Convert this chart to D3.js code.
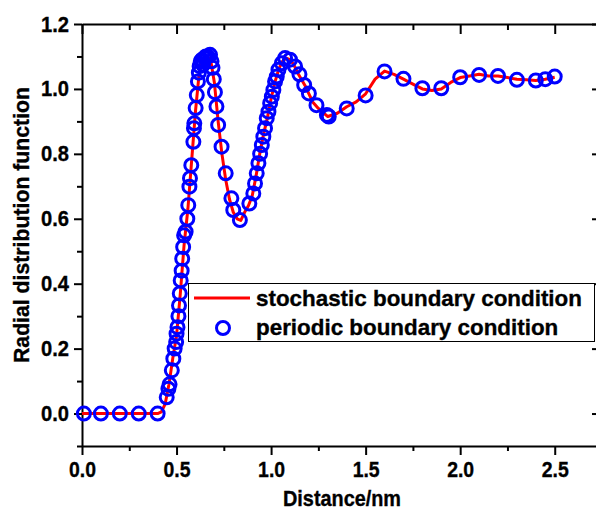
<!DOCTYPE html>
<html>
<head>
<meta charset="utf-8">
<script src="https://cdn.jsdelivr.net/npm/d3@7"></script>
<style>
  html, body { margin: 0; padding: 0; background: #fff; }
  svg { display: block; }
  text { font-family: "Liberation Sans", Arial, sans-serif; font-weight: bold; fill: #000;
         stroke: #000; stroke-width: 0.35px; }
</style>
</head>
<body>
<svg id="chart" width="596" height="512"></svg>
<script>
// Radial distribution function g(r): stochastic vs periodic boundary condition

// stochastic boundary condition (continuous curve)
const stochR = [0, 0.1, 0.2, 0.3, 0.4, 0.42, 0.44, 0.46, 0.48, 0.50, 0.52, 0.54, 0.56, 0.58, 0.60,
  0.62, 0.64, 0.66, 0.68, 0.70, 0.72, 0.74, 0.76, 0.78, 0.80, 0.82, 0.84, 0.86, 0.88, 0.90,
  0.92, 0.94, 0.96, 0.98, 1.00, 1.02, 1.04, 1.06, 1.08, 1.10, 1.12, 1.14, 1.16, 1.18, 1.20,
  1.22, 1.25, 1.28, 1.30, 1.35, 1.40, 1.45, 1.50, 1.55, 1.60, 1.65, 1.70, 1.75, 1.80, 1.85,
  1.90, 1.95, 2.00, 2.05, 2.10, 2.15, 2.20, 2.25, 2.30, 2.35, 2.40, 2.45, 2.50];
const stochG = [0, 0, 0, 0, 0, 0.005, 0.03, 0.09, 0.17, 0.24, 0.37, 0.52, 0.63, 0.78, 0.93,
  1.05, 1.09, 1.10, 1.09, 1.02, 0.90, 0.80, 0.72, 0.66, 0.62, 0.60, 0.595, 0.62, 0.64, 0.67,
  0.73, 0.80, 0.86, 0.91, 0.97, 1.02, 1.06, 1.085, 1.095, 1.09, 1.075, 1.05, 1.03, 1.01, 0.985,
  0.96, 0.94, 0.925, 0.915, 0.925, 0.945, 0.96, 0.985, 1.03, 1.055, 1.045, 1.03, 1.015, 1.0, 0.995,
  1.0, 1.02, 1.035, 1.04, 1.045, 1.04, 1.04, 1.035, 1.03, 1.028, 1.026, 1.03, 1.036];

// periodic boundary condition (sampled points)
const periodR = [0.01, 0.1, 0.2, 0.3, 0.4,
  0.448, 0.457, 0.463, 0.475, 0.483, 0.490, 0.498, 0.500, 0.505, 0.510, 0.513, 0.517, 0.522,
  0.527, 0.530, 0.535, 0.540, 0.548, 0.557, 0.562, 0.568, 0.571, 0.578, 0.589, 0.592, 0.594,
  0.601, 0.607, 0.613, 0.618, 0.622, 0.628, 0.635, 0.640, 0.648, 0.655, 0.665, 0.677, 0.685,
  0.690, 0.697, 0.703, 0.711, 0.720, 0.738, 0.760, 0.790, 0.800, 0.835,
  0.885, 0.906, 0.915, 0.924, 0.933, 0.942, 0.951, 0.959, 0.968, 0.977, 0.986, 0.995, 1.004,
  1.012, 1.021, 1.030, 1.039, 1.057, 1.074, 1.100, 1.127, 1.150, 1.175, 1.200, 1.240, 1.295,
  1.305, 1.40, 1.50, 1.60, 1.70, 1.80, 1.90, 2.00, 2.10, 2.20, 2.30, 2.40, 2.45, 2.50];
const periodG = [0, 0, 0, 0, 0,
  0.05, 0.076, 0.09, 0.133, 0.169, 0.20, 0.22, 0.246, 0.266, 0.30, 0.333, 0.37, 0.41,
  0.44, 0.477, 0.513, 0.549, 0.56, 0.60, 0.642, 0.699, 0.725, 0.765, 0.837, 0.879, 0.894,
  0.941, 0.981, 1.023, 1.05, 1.07, 1.085, 1.09, 1.075, 1.095, 1.10, 1.10, 1.105, 1.085,
  1.065, 1.03, 0.99, 0.946, 0.889, 0.822, 0.74, 0.663, 0.627, 0.596,
  0.647, 0.678, 0.709, 0.74, 0.771, 0.80, 0.827, 0.853, 0.879, 0.91, 0.93, 0.956, 0.976,
  0.997, 1.023, 1.038, 1.059, 1.079, 1.095, 1.09, 1.069, 1.045, 1.012, 0.986, 0.95, 0.92,
  0.915, 0.94, 0.98, 1.054, 1.031, 1.002, 1.002, 1.036, 1.043, 1.04, 1.028, 1.026, 1.03, 1.038];

const xTicks = [0, 0.5, 1.0, 1.5, 2.0, 2.5];
const xMinor = [0.25, 0.75, 1.25, 1.75, 2.25];
const yTicks = [0, 0.2, 0.4, 0.6, 0.8, 1.0, 1.2];
const yMinor = [-0.1, 0.1, 0.3, 0.5, 0.7, 0.9, 1.1];

const seriesNames = ["stochastic boundary condition", "periodic boundary condition"];
const xTitle = "Distance/nm";
const yTitle = "Radial distribution function";

const svg = d3.select("#chart");
const plotL = 82, plotR = 602, plotT = 24, plotB = 446;

const x = d3.scaleLinear().domain([0, 2.75]).range([plotL, plotR]);
const y = d3.scaleLinear().domain([-0.1, 1.2]).range([plotB, plotT]);

const fmt = d3.format(".1f");

// axes: bottom/left ticks outward, top/right mirrored inward
function styleAxis(g) {
  g.selectAll(".domain").attr("stroke", "#000").attr("stroke-width", 2);
  g.selectAll(".tick line").attr("stroke", "#000").attr("stroke-width", 2);
}

const gx = svg.append("g").attr("transform", `translate(0,${plotB})`)
  .call(d3.axisBottom(x).tickValues(xTicks).tickFormat(fmt).tickSize(9).tickSizeOuter(0).tickPadding(6));
gx.append("g").call(d3.axisBottom(x).tickValues(xMinor).tickFormat("").tickSize(5))
  .select(".domain").remove();
styleAxis(gx);
gx.selectAll(".tick text")
  .attr("font-size", 22).attr("font-family", null)
  .attr("textLength", 27).attr("lengthAdjust", "spacingAndGlyphs");

const gxTop = svg.append("g").attr("transform", `translate(0,${plotT})`)
  .call(d3.axisTop(x).tickValues(xTicks).tickFormat("").tickSize(-10).tickSizeOuter(0));
gxTop.append("g").call(d3.axisTop(x).tickValues(xMinor).tickFormat("").tickSize(-6))
  .select(".domain").remove();
styleAxis(gxTop);

const gy = svg.append("g").attr("transform", `translate(${plotL},0)`)
  .call(d3.axisLeft(y).tickValues(yTicks).tickFormat(fmt).tickSize(8).tickSizeOuter(0).tickPadding(5));
gy.append("g").call(d3.axisLeft(y).tickValues(yMinor).tickFormat("").tickSize(5))
  .select(".domain").remove();
styleAxis(gy);
gy.selectAll(".tick text")
  .attr("font-size", 22).attr("font-family", null)
  .attr("textLength", 28).attr("lengthAdjust", "spacingAndGlyphs");

const gyRight = svg.append("g").attr("transform", `translate(${plotR},0)`)
  .call(d3.axisRight(y).tickValues(yTicks).tickFormat("").tickSize(-10).tickSizeOuter(0));
gyRight.append("g").call(d3.axisRight(y).tickValues(yMinor).tickFormat("").tickSize(-6))
  .select(".domain").remove();
styleAxis(gyRight);

// axis titles
svg.append("text").attr("x", 342).attr("y", 506).attr("text-anchor", "middle")
  .attr("font-size", 22).attr("textLength", 118).attr("lengthAdjust", "spacingAndGlyphs")
  .text(xTitle);
svg.append("text").attr("transform", "translate(29,225) rotate(-90)").attr("text-anchor", "middle")
  .attr("font-size", 22).attr("textLength", 276).attr("lengthAdjust", "spacingAndGlyphs")
  .text(yTitle);

// stochastic curve
const stochData = stochR.map((r, i) => [r, stochG[i]]);
svg.append("path").datum(stochData)
  .attr("fill", "none").attr("stroke", "#ff0000").attr("stroke-width", 3)
  .attr("stroke-linejoin", "round")
  .attr("d", d3.line().x(d => x(d[0])).y(d => y(d[1])));

// periodic points
const periodData = periodR.map((r, i) => [r, periodG[i]]);
svg.append("g").selectAll("circle").data(periodData).join("circle")
  .attr("cx", d => x(d[0])).attr("cy", d => y(d[1])).attr("r", 6.5)
  .attr("fill", "none").attr("stroke", "#0000ff").attr("stroke-width", 3);

// legend
const lg = svg.append("g");
lg.append("rect").attr("x", 188.5).attr("y", 283.5).attr("width", 406).attr("height", 58)
  .attr("fill", "#fff").attr("stroke", "#000").attr("stroke-width", 1);
lg.append("line").attr("x1", 194).attr("x2", 250).attr("y1", 298).attr("y2", 298)
  .attr("stroke", "#ff0000").attr("stroke-width", 3);
lg.append("circle").attr("cx", 223).attr("cy", 328).attr("r", 6.5)
  .attr("fill", "none").attr("stroke", "#0000ff").attr("stroke-width", 3);
lg.append("text").attr("x", 256).attr("y", 306).attr("font-size", 22.4).text(seriesNames[0]);
lg.append("text").attr("x", 256).attr("y", 335).attr("font-size", 22.4).text(seriesNames[1]);
</script>
</body>
</html>
